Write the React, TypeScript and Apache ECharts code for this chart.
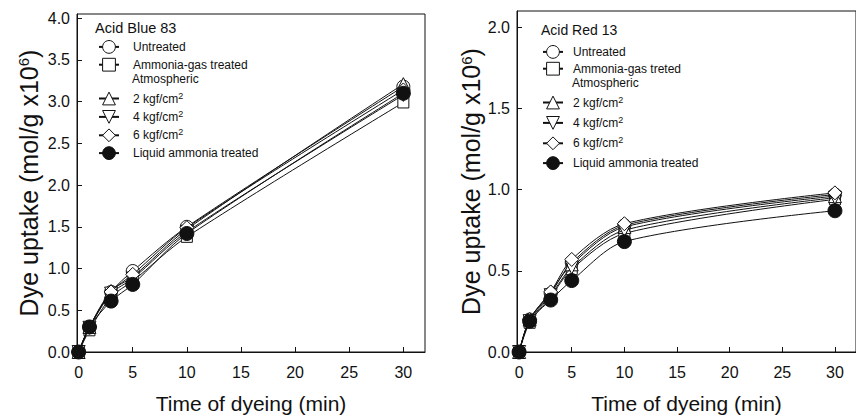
import React, { useEffect, useRef } from 'react';
import * as echarts from 'echarts';

// ---- data ----
const times = [0, 1, 3, 5, 10, 30];
const xTicks = [0, 5, 10, 15, 20, 25, 30];
const yTicksBlue = [0, 0.5, 1, 1.5, 2, 2.5, 3, 3.5, 4];
const yTicksRed = [0, 0.5, 1, 1.5, 2];

const namesBlue = ['Untreated', 'Ammonia-gas treated', '2 kgf/cm2', '4 kgf/cm2', '6 kgf/cm2', 'Liquid ammonia treated'];
const namesRed = ['Untreated', 'Ammonia-gas treted', '2 kgf/cm2', '4 kgf/cm2', '6 kgf/cm2', 'Liquid ammonia treated'];

const blueUntreated = [0, 0.30, 0.72, 0.97, 1.50, 3.18];
const blueAmmonia = [0, 0.26, 0.66, 0.85, 1.38, 2.99];
const blue2 = [0, 0.30, 0.73, 0.90, 1.47, 3.21];
const blue4 = [0, 0.29, 0.70, 0.88, 1.44, 3.08];
const blue6 = [0, 0.30, 0.72, 0.93, 1.49, 3.14];
const blueLiquid = [0, 0.30, 0.61, 0.81, 1.42, 3.10];

const redUntreated = [0, 0.20, 0.36, 0.55, 0.78, 0.97];
const redAmmonia = [0, 0.18, 0.34, 0.51, 0.73, 0.94];
const red2 = [0, 0.20, 0.37, 0.54, 0.77, 0.96];
const red4 = [0, 0.19, 0.35, 0.52, 0.75, 0.95];
const red6 = [0, 0.20, 0.37, 0.57, 0.79, 0.98];
const redLiquid = [0, 0.19, 0.32, 0.44, 0.68, 0.87];

const blueValues = [blueUntreated, blueAmmonia, blue2, blue4, blue6, blueLiquid];
const redValues = [redUntreated, redAmmonia, red2, red4, red6, redLiquid];

// ---- styles ----
const FONT = 'Liberation Sans, Arial, Helvetica, sans-serif';
const INK = '#111';
const symbols = ['circle', 'rect', 'triangle', 'path://M0,0L10,0L5,8.66Z', 'diamond', 'circle'];
const symbolSizes = [13, 11, 13, 13, 14, 14];
const filled = [false, false, false, false, false, true];

function makeSeries(names: string[], values: number[][], idx: number) {
  return names.map((name, i) => ({
    type: 'line',
    name,
    xAxisIndex: idx,
    yAxisIndex: idx,
    data: times.map((t, j) => [t, values[i][j]]),
    smooth: 0.3,
    symbol: symbols[i],
    symbolSize: symbolSizes[i],
    showAllSymbol: true,
    lineStyle: { color: INK, width: 1 },
    itemStyle: { color: filled[i] ? INK : '#fff', borderColor: INK, borderWidth: 1 },
    emphasis: { disabled: true },
    z: 2 + i,
  }));
}

function xAxis(idx: number, min: number) {
  return {
    type: 'value',
    gridIndex: idx,
    min,
    max: 32,
    axisLine: { show: true, onZero: false, lineStyle: { color: INK, width: 1 } },
    axisTick: { show: true, inside: true, length: 5, customValues: xTicks, lineStyle: { color: INK } },
    axisLabel: { customValues: xTicks, fontSize: 16, color: INK, margin: 12, fontFamily: FONT },
    splitLine: { show: false },
    name: 'Time of dyeing (min)',
    nameLocation: 'middle',
    nameGap: 41,
    nameTextStyle: { fontSize: 21, color: INK, fontFamily: FONT },
  };
}

function yAxis(idx: number, max: number, ticks: number[], gap: number) {
  return {
    type: 'value',
    gridIndex: idx,
    min: 0,
    max,
    axisLine: { show: true, onZero: false, lineStyle: { color: INK, width: 1 } },
    axisTick: { show: true, inside: true, length: 5, customValues: ticks, lineStyle: { color: INK } },
    axisLabel: {
      customValues: ticks,
      fontSize: 16,
      color: INK,
      margin: 7,
      fontFamily: FONT,
      formatter: (v: number) => v.toFixed(1),
    },
    splitLine: { show: false },
    name: '{a|Dye uptake (mol/g x10}{s|6}{a|)}',
    nameLocation: 'middle',
    nameRotate: 90,
    nameGap: gap,
    nameTextStyle: {
      color: INK,
      fontFamily: FONT,
      rich: {
        a: { fontSize: 25, color: INK, fontFamily: FONT },
        s: { fontSize: 15, color: INK, fontFamily: FONT, verticalAlign: 'top' },
      },
    },
  };
}

function legend(data: string[], left: number, top: number, gap: number, padLeft: number) {
  return {
    orient: 'vertical',
    left,
    top,
    padding: 0,
    itemWidth: 20,
    itemHeight: 16,
    itemGap: gap,
    selectedMode: false,
    data,
    itemStyle: { borderWidth: 1 },
    formatter: (name: string) =>
      name.indexOf('kgf/cm2') >= 0 ? `{t|${name.slice(0, -1)}}{s|2}` : `{t|${name}}`,
    textStyle: {
      fontSize: 12,
      color: INK,
      fontFamily: FONT,
      padding: [0, 0, 0, padLeft],
      rich: {
        t: { fontSize: 12, color: INK, fontFamily: FONT, lineHeight: 15 },
        s: { fontSize: 9, color: INK, fontFamily: FONT, verticalAlign: 'top', lineHeight: 10 },
      },
    },
  };
}

function txt(text: string, x: number, y: number, size: number) {
  return {
    type: 'text',
    x,
    y,
    silent: true,
    style: { text, fontSize: size, fill: INK, fontFamily: FONT, verticalAlign: 'middle' },
  };
}

export default function App() {
  const ref = useRef<HTMLDivElement>(null);
  useEffect(() => {
    if (!ref.current) return;
    const chart = echarts.init(ref.current, null, { renderer: 'svg' });
    chart.setOption({
      animation: false,
      backgroundColor: '#fff',
      grid: [
        { left: 77, top: 14, width: 348, height: 341, show: true, borderColor: INK, borderWidth: 1 },
        { left: 517, top: 11, width: 350, height: 346, show: true, borderColor: INK, borderWidth: 1 },
      ],
      xAxis: [xAxis(0, -0.15), xAxis(1, -0.2)],
      yAxis: [yAxis(0, 4.05, yTicksBlue, 36), yAxis(1, 2.1, yTicksRed, 22)],
      legend: [
        legend([namesBlue[0], namesBlue[1]], 98, 40, 4, 9),
        legend(namesBlue.slice(2), 98, 91, 4, 9),
        legend([namesRed[0], namesRed[1]], 542, 45, 3, 5),
        legend(namesRed.slice(2), 542, 95, 6, 5),
      ],
      graphic: [
        txt('Acid Blue 83', 95, 28, 14.5),
        txt('Atmospheric', 132, 79, 12),
        txt('Acid Red 13', 541, 30, 14),
        txt('Atmospheric', 572, 83, 12),
      ],
      series: [...makeSeries(namesBlue, blueValues, 0), ...makeSeries(namesRed, redValues, 1)],
    });
    return () => chart.dispose();
  }, []);
  return <div ref={ref} style={{ position: 'absolute', left: 0, top: 0, width: 856, height: 419 }} />;
}
